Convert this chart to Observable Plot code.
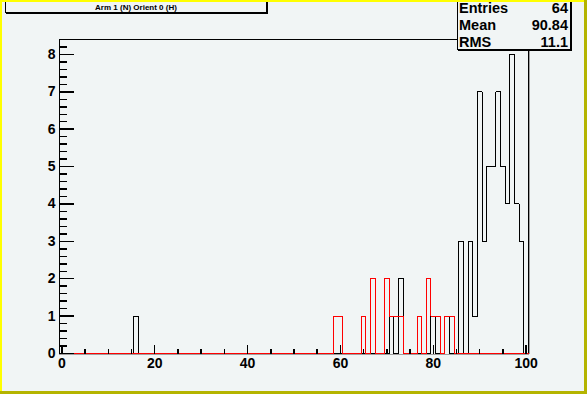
<!DOCTYPE html>
<html>
<head>
<meta charset="utf-8">
<script src="https://cdn.jsdelivr.net/npm/d3@7"></script>
<script src="https://cdn.jsdelivr.net/npm/@observablehq/plot@0.6"></script>
<style>
  html, body { margin: 0; padding: 0; background: #f1f5f5; }
  #wrap { position: relative; width: 587px; height: 394px; overflow: hidden; background: #f1f5f5;
          font-family: "Liberation Sans", Arial, Helvetica, sans-serif; font-weight: bold; }
  #chart svg { position: absolute; left: 0; top: 0; }
  .bt { position: absolute; left: 0; top: 0; width: 587px; height: 2px; background: #ffff00; }
  .bl { position: absolute; left: 0; top: 0; width: 2px; height: 394px; background: #ffff00; }
  .br { position: absolute; right: 0; top: 0; width: 3px; height: 394px; background: #b4b400; }
  .bb { position: absolute; left: 0; bottom: 0; width: 587px; height: 3px; background: #b4b400; }
  #title { position: absolute; left: 5px; top: -10px; width: 260px; height: 21px; border: 1px solid #000;
           box-shadow: 1px 1px 0 #000; background: #f1f5f5; font-size: 8px; text-align: center; }
  #title span { position: absolute; left: 0; right: 0; top: 12px; line-height: 9px; }
  #stats { position: absolute; left: 457px; top: -8px; width: 112px; height: 56px; border: 1px solid #000;
           box-shadow: 1px 1px 0 #000; background: #f1f5f5; font-size: 14.5px; }
  .row { position: absolute; left: 1px; right: 2px; height: 16.7px; line-height: 16.7px; }
  .row .k { position: absolute; left: 0; }
  .row .v { position: absolute; right: 0; }
</style>
</head>
<body>
<div id="wrap">
  <div id="chart"></div>
  <div id="title"><span id="titleText"></span></div>
  <div id="stats"></div>
  <div class="bt"></div><div class="bl"></div><div class="br"></div><div class="bb"></div>
</div>
<script>
// ---- data ----
const titleText = "Arm 1 (N) Orient 0 (H)";
const statLabels = ["Entries", "Mean", "RMS"];
const statValues = ["64", "90.84", "11.1"];

const blackBins   = [16, 71, 73, 80, 83, 86, 88, 89, 90, 91, 92, 93, 94, 95, 96, 97, 98, 99];
const blackCounts = [ 1,  1,  2,  1,  1,  3,  3,  1,  7,  3,  5,  5,  7,  5,  4,  8,  4,  3];

const redBins   = [59, 60, 65, 67, 70, 71, 72, 73, 77, 79, 80, 81, 83, 84];
const redCounts = [ 1,  1,  1,  2,  2,  1,  1,  1,  1,  2,  1,  1,  1,  1];

const nBins = 101;            // bins of width 1 centred on 0..100
const xMajor = [0, 20, 40, 60, 80, 100];
const xMinor = [5, 10, 15, 25, 30, 35, 45, 50, 55, 65, 70, 75, 85, 90, 95];
const yMajor = [0, 1, 2, 3, 4, 5, 6, 7, 8];
const yMinor = d3.range(0, 8.4, 0.2).filter(v => Math.abs(v - Math.round(v)) > 1e-6);

// ---- build step tables ----
function steps(bins, counts) {
  const full = new Array(nBins).fill(0);
  bins.forEach((b, i) => { full[b] = counts[i]; });
  const pts = full.map((c, i) => ({x: i - 0.5, y: c}));
  pts.push({x: nBins - 0.5, y: 0});
  return pts;
}
const blackSteps = steps(blackBins, blackCounts);
const redSteps = steps(redBins, redCounts);

const tickShape = {draw(context, l) { context.moveTo(0, 0); context.lineTo(0, -l); }};
const crisp = {shapeRendering: "crispEdges"};

const chart = Plot.plot({
  width: 587,
  height: 394,
  marginLeft: 59,
  marginRight: 59,
  marginTop: 39,
  marginBottom: 41,
  x: {domain: [-0.5, 100.5]},
  y: {domain: [0, 8.4]},
  style: {background: "#f1f5f5", color: "black", fontFamily: "'Liberation Sans', Arial, sans-serif", fontWeight: "bold"},
  marks: [
    Plot.frame({anchor: "bottom", stroke: "#a0a0a0", dy: 1, ...crisp}),
    Plot.frame({anchor: "right", stroke: "#a0a0a0", dx: 1, ...crisp}),
    Plot.frame({anchor: "left", stroke: "black", ...crisp}),
    Plot.frame({anchor: "top", stroke: "black", ...crisp}),
    Plot.frame({anchor: "right", stroke: "black", ...crisp}),
    Plot.line(blackSteps, {x: "x", y: "y", curve: "step-after", stroke: "black", strokeWidth: 1, ...crisp}),
    Plot.line(redSteps, {x: "x", y: "y", curve: "step-after", stroke: "#ff0000", strokeWidth: 1, ...crisp}),
    Plot.vector(xMajor, {x: d => d, frameAnchor: "bottom", length: 8, rotate: 0, anchor: "start", shape: tickShape, stroke: "black", ...crisp}),
    Plot.vector(xMinor, {x: d => d, frameAnchor: "bottom", length: 4, rotate: 0, anchor: "start", shape: tickShape, stroke: "black", ...crisp}),
    Plot.vector(yMajor, {y: d => d, frameAnchor: "left", length: 14, rotate: 90, anchor: "start", shape: tickShape, stroke: "black", ...crisp}),
    Plot.vector(yMinor, {y: d => d, frameAnchor: "left", length: 7, rotate: 90, anchor: "start", shape: tickShape, stroke: "black", ...crisp}),
    Plot.axisX({ticks: xMajor, tickSize: 0, tickPadding: 5, fontSize: 14, label: null}),
    Plot.axisY({ticks: yMajor, tickSize: 0, tickPadding: 4, fontSize: 14, label: null})
  ]
});
document.getElementById("chart").appendChild(chart);

document.getElementById("titleText").textContent = titleText;
const stats = document.getElementById("stats");
statLabels.forEach((lab, i) => {
  const row = document.createElement("div");
  row.className = "row";
  row.style.top = (7.3 + i * 16.7) + "px";
  row.innerHTML = `<span class="k"></span><span class="v"></span>`;
  row.querySelector(".k").textContent = lab;
  row.querySelector(".v").textContent = statValues[i];
  stats.appendChild(row);
});
</script>
</body>
</html>
